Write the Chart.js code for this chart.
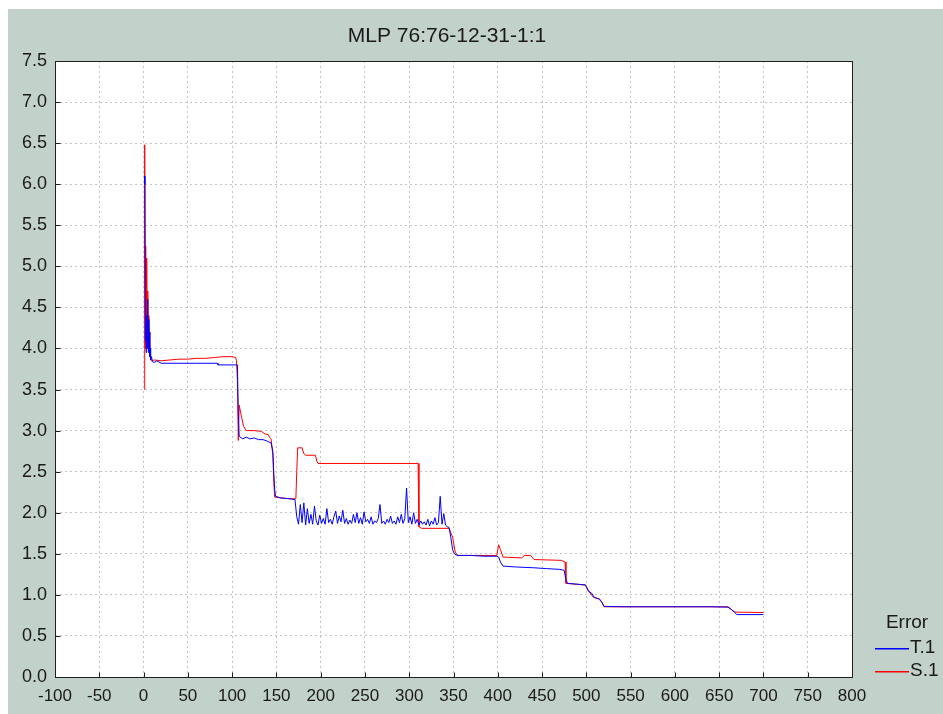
<!DOCTYPE html>
<html>
<head>
<meta charset="utf-8">
<script src="https://cdn.jsdelivr.net/npm/chart.js@4/dist/chart.umd.min.js"></script>
<style>
  html, body { margin: 0; padding: 0; background: #ffffff; }
  #wrap { width: 943px; height: 714px; }
</style>
</head>
<body>
<div id="wrap"><canvas id="c" width="943" height="714"></canvas></div>
<script>
// ---- data ----
const chartTitle = "MLP 76:76-12-31-1:1";
const legendTitle = "Error";
const seriesNames = ["T.1", "S.1"];
const seriesColors = ["#0000ff", "#ff0000"];

const xTicks = [-100, -50, 0, 50, 100, 150, 200, 250, 300, 350, 400, 450, 500, 550, 600, 650, 700, 750, 800];
const yTicks = [0.0, 0.5, 1.0, 1.5, 2.0, 2.5, 3.0, 3.5, 4.0, 4.5, 5.0, 5.5, 6.0, 6.5, 7.0, 7.5];

// T.1 (blue)
const tEpoch = [
  1, 1.5, 2, 2.5, 3, 3.5, 4, 4.5, 5, 5.5, 6, 6.5, 7, 7.5, 8, 9, 10, 12, 15, 20, 40, 60, 83, 84, 106, 107, 108,
  112, 116, 120, 125, 130, 135, 140, 144, 146, 147, 148, 149, 155, 165, 171,
  173, 175, 177, 179, 181, 183, 185, 187, 189, 191, 193, 195, 197, 199, 201, 203, 205, 207, 209, 211,
  213, 215, 217, 219, 221, 223, 225, 227, 229, 231, 233, 235, 237, 239, 241, 243, 245, 247, 249, 251,
  253, 255, 257, 259, 261, 263, 265, 267, 269, 271, 273, 275, 277, 279, 281, 283, 285, 287, 289, 291,
  293, 295, 297, 299, 301, 303, 305, 307, 309, 311, 313, 315, 317, 319, 321, 323, 325, 327, 329, 331,
  333, 335, 337, 339, 341, 343, 345,
  347, 349, 351, 354, 370, 385, 399, 401, 403, 406, 420, 440, 455, 470, 475, 477, 479, 490, 499,
  502, 506, 509, 514, 517, 520, 540, 600, 640, 660, 664, 667, 670, 700
];
const tError = [
  6.10, 6.00, 4.10, 4.30, 3.95, 4.40, 4.00, 4.60, 4.05, 4.35, 3.95, 4.20, 3.90, 4.00, 3.86, 3.90, 3.84, 3.83, 3.85, 3.82, 3.82, 3.82, 3.82, 3.80, 3.80, 3.20, 2.93,
  2.90, 2.92, 2.90, 2.91, 2.89, 2.89, 2.87, 2.85, 2.75, 2.50, 2.30, 2.20, 2.18, 2.17, 2.16,
  1.95, 1.86, 2.10, 1.88, 2.12, 1.85, 2.05, 1.87, 1.98, 1.86, 2.08, 1.90, 1.85, 1.97, 1.87, 1.93, 1.86, 2.05, 1.88, 1.92,
  1.86, 1.95, 2.02, 1.87, 1.96, 1.89, 2.03, 1.87, 1.93, 1.86, 1.91, 1.87, 1.98, 1.88, 2.00, 1.87, 1.94, 1.86, 2.01, 1.89,
  1.92, 1.87, 1.95, 1.86, 1.90, 1.88, 1.93, 2.10, 1.87, 1.90, 1.86, 1.92, 1.88, 1.96, 1.87, 1.90, 1.86, 1.95, 1.88, 1.98,
  1.87, 1.93, 2.30, 1.88, 1.95, 1.86, 2.00, 1.87, 1.92, 1.85, 1.90, 1.86, 1.89, 1.85, 1.92, 1.84, 1.90, 1.86, 1.94, 1.85,
  1.88, 2.20, 1.86, 1.99, 1.85, 1.83, 1.82,
  1.70, 1.55, 1.50, 1.48, 1.48, 1.47, 1.47, 1.46, 1.40, 1.35, 1.34, 1.33, 1.32, 1.31, 1.30, 1.18, 1.14, 1.13, 1.12,
  1.05, 1.02, 0.97, 0.95, 0.92, 0.86, 0.855, 0.855, 0.855, 0.85, 0.82, 0.79, 0.76, 0.76
];

// S.1 (red)
const sEpoch = [
  1, 1.3, 1.8, 2.2, 2.6, 3, 3.4, 3.8, 4.2, 4.6, 5, 5.5, 6, 6.5, 7, 8, 9, 12, 20, 30, 40, 50, 60, 70, 80, 90, 100,
  104, 105, 106, 107, 108, 110, 113, 116, 125, 133, 137, 141, 142, 144, 146, 147, 148, 155, 165, 172,
  173, 174, 179, 181, 183, 194, 196, 197, 250, 310, 311, 314, 345, 349, 352, 355, 399, 401, 403, 406,
  427, 430, 437, 441, 472, 476, 477, 499, 503, 508, 515, 518, 520, 660, 664, 668, 700
];
const sError = [
  3.50, 6.48, 4.00, 5.25, 4.05, 5.10, 4.00, 4.90, 4.10, 4.70, 4.00, 4.40, 4.05, 4.20, 3.95, 3.88, 3.85, 3.86, 3.85, 3.86, 3.87, 3.87, 3.88, 3.88, 3.89, 3.90, 3.90,
  3.89, 3.85, 3.60, 2.88, 3.31, 3.20, 3.05, 3.00, 3.00, 2.99, 2.96, 2.95, 2.92, 2.90, 2.70, 2.40, 2.19, 2.18, 2.17, 2.17,
  2.50, 2.79, 2.79, 2.72, 2.70, 2.70, 2.62, 2.60, 2.60, 2.60, 1.83, 1.81, 1.81, 1.70, 1.52, 1.48, 1.48, 1.61, 1.55, 1.46,
  1.45, 1.48, 1.48, 1.43, 1.42, 1.40, 1.14, 1.12, 1.04, 0.97, 0.95, 0.90, 0.855, 0.855, 0.82, 0.79, 0.785
];

// ---- chart ----
const toPoints = (xs, ys) => xs.map((x, i) => ({ x: x, y: ys[i] }));
const FONT = "'Liberation Sans', Arial, sans-serif";
const BG = "#c2d1c9";

const framePlugin = {
  id: 'frame',
  beforeDraw(chart) {
    const ctx = chart.ctx, a = chart.chartArea;
    ctx.save();
    ctx.fillStyle = '#ffffff';
    ctx.fillRect(0, 0, chart.width, chart.height);
    ctx.fillStyle = BG;
    ctx.fillRect(8, 9, chart.width - 8, chart.height - 9);
    ctx.fillStyle = '#ffffff';
    ctx.fillRect(a.left, a.top, a.right - a.left, a.bottom - a.top);
    ctx.restore();
  },
  afterDraw(chart) {
    const ctx = chart.ctx, a = chart.chartArea;
    const L = Math.round(a.left) + 0.5, T = Math.round(a.top) + 0.5;
    const R = Math.round(a.right) + 0.5, B = Math.round(a.bottom) + 0.5;
    ctx.save();
    ctx.strokeStyle = '#202020';
    ctx.lineWidth = 1;
    ctx.strokeRect(L, T, R - L, B - T);
    // short inner tick marks
    ctx.beginPath();
    chart.scales.x.ticks.forEach(t => {
      const px = Math.round(chart.scales.x.getPixelForValue(t.value)) + 0.5;
      ctx.moveTo(px, B); ctx.lineTo(px, B - 5);
    });
    chart.scales.y.ticks.forEach(t => {
      const py = Math.round(chart.scales.y.getPixelForValue(t.value)) + 0.5;
      ctx.moveTo(L, py); ctx.lineTo(L + 5, py);
    });
    ctx.stroke();
    // title
    ctx.fillStyle = '#1a1a1a';
    ctx.font = "21px " + FONT;
    ctx.textAlign = 'center';
    ctx.textBaseline = 'middle';
    ctx.fillText(chartTitle, 447, 36);
    // legend
    ctx.font = "19px " + FONT;
    ctx.fillText(legendTitle, 907, 623);
    ctx.textAlign = 'left';
    const rows = [648, 671];
    chart.data.datasets.forEach((ds, i) => {
      const y = rows[i];
      ctx.fillStyle = seriesColors[i];
      ctx.fillRect(875, y, 34, 1.5);
      ctx.fillStyle = '#1a1a1a';
      ctx.fillText(ds.label, 910, y);
    });
    ctx.restore();
  }
};

new Chart(document.getElementById('c'), {
  type: 'line',
  data: {
    datasets: [
      { label: seriesNames[0], data: toPoints(tEpoch, tError), borderColor: seriesColors[0], borderWidth: 1, pointRadius: 0, tension: 0, fill: false },
      { label: seriesNames[1], data: toPoints(sEpoch, sError), borderColor: seriesColors[1], borderWidth: 1, pointRadius: 0, tension: 0, fill: false }
    ]
  },
  options: {
    responsive: false,
    animation: false,
    devicePixelRatio: 1,
    layout: { padding: { left: 0, top: 61, right: 91, bottom: 0 } },
    plugins: { legend: { display: false }, title: { display: false }, tooltip: { enabled: false } },
    scales: {
      x: {
        type: 'linear',
        min: -100, max: 800,
        afterBuildTicks: s => { s.ticks = xTicks.map(v => ({ value: v })); },
        afterFit: s => { s.height = 37; },
        border: { display: false, dash: [2, 3] },
        grid: { color: '#c4c4c4', lineWidth: 1, drawTicks: false },
        ticks: { color: '#1a1a1a', font: { family: FONT, size: 17 }, padding: 9, maxRotation: 0, autoSkip: false }
      },
      y: {
        type: 'linear',
        min: 0, max: 7.5,
        afterBuildTicks: s => { s.ticks = yTicks.map(v => ({ value: v })); },
        afterFit: s => { s.width = 55; },
        border: { display: false, dash: [2, 3] },
        grid: { color: '#c4c4c4', lineWidth: 1, drawTicks: false },
        ticks: { color: '#1a1a1a', font: { family: FONT, size: 18 }, padding: 8, autoSkip: false, callback: v => Number(v).toFixed(1) }
      }
    }
  },
  plugins: [framePlugin]
});
</script>
</body>
</html>
